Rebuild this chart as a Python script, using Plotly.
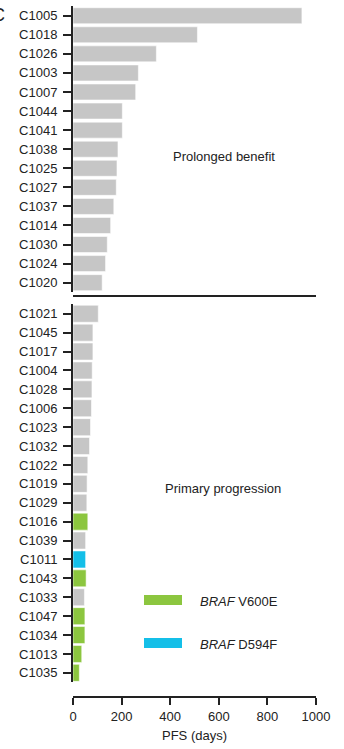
import plotly.graph_objects as go

# ---- data ----
top_ids = ["C1005", "C1018", "C1026", "C1003", "C1007", "C1044", "C1041", "C1038",
           "C1025", "C1027", "C1037", "C1014", "C1030", "C1024", "C1020"]
top_pfs = [942, 512, 343, 269, 258, 203, 203, 185, 181, 178, 168, 155, 141, 134, 120]

bottom_ids = ["C1021", "C1045", "C1017", "C1004", "C1028", "C1006", "C1023", "C1032",
              "C1022", "C1019", "C1029", "C1016", "C1039", "C1011", "C1043", "C1033",
              "C1047", "C1034", "C1013", "C1035"]
bottom_pfs = [104, 82, 82, 79, 78, 76, 72, 68, 61, 58, 57, 61, 52, 52, 54, 47, 49, 49, 36, 26]
bottom_mut = ["none", "none", "none", "none", "none", "none", "none", "none",
              "none", "none", "none", "V600E", "none", "D594F", "V600E", "none",
              "V600E", "V600E", "V600E", "V600E"]

x_ticks = [0, 200, 400, 600, 800, 1000]
group_labels = ["Prolonged benefit", "Primary progression"]
legend_labels = ["<i>BRAF</i> V600E", "<i>BRAF</i> D594F"]

# ---- styles ----
GRAY = "#c6c6c6"
GREEN = "#8cc63f"
BLUE = "#14bfe8"
AXC = "#222222"
FONT = "Arial, Liberation Sans, sans-serif"
color_map = {"none": GRAY, "V600E": GREEN, "D594F": BLUE}

W, H = 344, 749
ML, MR, MT, MB = 73, 28, 5, 52
PW, PH = W - ML - MR, H - MT - MB


def px_y(y):
    return (H - MB - y) / PH


def px_x(x):
    return (x - ML) / PW


fig = go.Figure()

fig.add_trace(go.Bar(
    x=top_pfs, y=top_ids, orientation="h", xaxis="x2", yaxis="y2",
    marker=dict(color=GRAY, line=dict(color="rgba(255,255,255,0.7)", width=0.8)),
    width=0.84, showlegend=False, hoverinfo="x+y",
))
fig.add_trace(go.Bar(
    x=bottom_pfs, y=bottom_ids, orientation="h", xaxis="x", yaxis="y",
    marker=dict(color=[color_map[m] for m in bottom_mut],
                line=dict(color="rgba(255,255,255,0.7)", width=0.8)),
    width=0.9, showlegend=False, hoverinfo="x+y",
))

yax_common = dict(
    type="category", showline=True, linewidth=2, linecolor=AXC,
    ticks="outside", ticklen=8, tickwidth=2, tickcolor=AXC,
    tickfont=dict(family=FONT, size=13, color="#222"),
    showgrid=False, zeroline=False, fixedrange=True, ticklabelstandoff=3,
    automargin=False,
)

fig.update_layout(
    width=W, height=H,
    margin=dict(l=ML, r=MR, t=MT, b=MB, autoexpand=False),
    plot_bgcolor="white", paper_bgcolor="white",
    font=dict(family=FONT, size=13, color="#222"),
    bargap=0.12,
    xaxis=dict(
        domain=[0, 1], range=[0, 1000], anchor="free", position=0,
        tickvals=x_ticks, showline=True, linewidth=2, linecolor=AXC,
        ticks="outside", ticklen=7, tickwidth=2, tickcolor=AXC,
        tickfont=dict(family=FONT, size=13, color="#222"),
        showgrid=False, zeroline=False, automargin=False,
        title=dict(text="PFS (days)", font=dict(family=FONT, size=13, color="#222"), standoff=7),
    ),
    xaxis2=dict(
        domain=[0, 1], range=[0, 1000], anchor="free", position=px_y(296),
        showline=True, linewidth=2, linecolor=AXC, ticks="",
        showticklabels=False, showgrid=False, zeroline=False, automargin=False,
    ),
    yaxis=dict(
        domain=[px_y(682.3), px_y(304.3)], anchor="x",
        categoryarray=bottom_ids, categoryorder="array",
        range=[len(bottom_ids) - 0.5, -0.5], **yax_common,
    ),
    yaxis2=dict(
        domain=[px_y(292.2), px_y(6.2)], anchor="x2",
        categoryarray=top_ids, categoryorder="array",
        range=[len(top_ids) - 0.5, -0.5], **yax_common,
    ),
)

annos = [
    dict(text=group_labels[0], x=px_x(224), y=px_y(156)),
    dict(text=group_labels[1], x=px_x(223), y=px_y(488)),
]
for a in annos:
    fig.add_annotation(xref="paper", yref="paper", showarrow=False,
                       xanchor="center", yanchor="middle",
                       font=dict(family=FONT, size=13, color="#222"), **a)

# legend (shapes + text)
leg = [(GREEN, 595, 605, legend_labels[0], 601), (BLUE, 638, 648, legend_labels[1], 644)]
for col, y0, y1, txt, yt in leg:
    fig.add_shape(type="rect", xref="paper", yref="paper",
                  x0=px_x(144), x1=px_x(182), y0=px_y(y1), y1=px_y(y0),
                  fillcolor=col, line=dict(width=0))
    fig.add_annotation(xref="paper", yref="paper", showarrow=False,
                       x=px_x(198), y=px_y(yt), xanchor="left", yanchor="middle",
                       text=txt, font=dict(family=FONT, size=13, color="#222"))

# panel letter (partly cut at the left edge, as in the reference)
fig.add_annotation(xref="paper", yref="paper", showarrow=False,
                   x=px_x(7), y=px_y(15), xanchor="right", yanchor="middle",
                   text="C", font=dict(family=FONT, size=18, color="#222"))

fig.write_html("out.html", config={"displayModeBar": False},
               post_script="document.body.style.margin='0';")
